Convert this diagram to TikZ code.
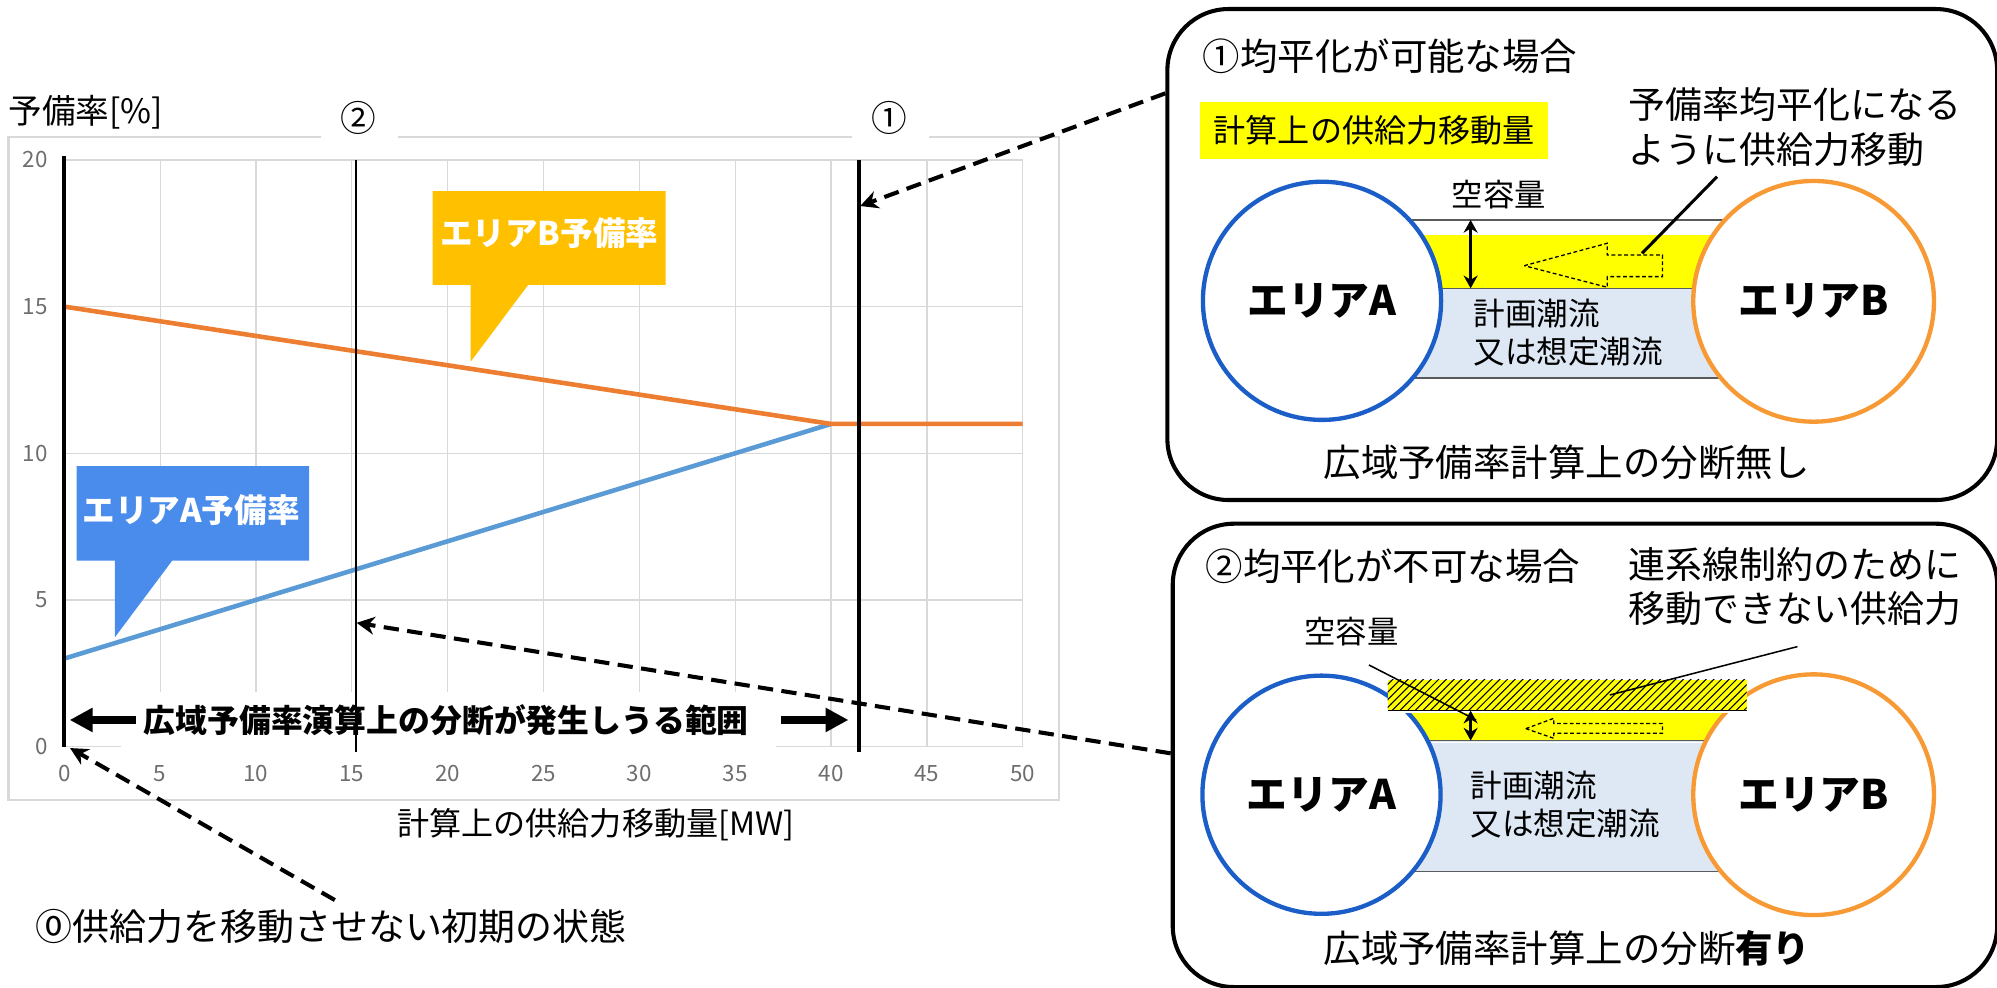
\documentclass[tikz,border=0pt]{standalone}
\usepackage{fontspec}
\setmainfont{Noto Sans CJK JP}
\usetikzlibrary{arrows.meta,patterns}
\definecolor{gridc}{HTML}{D9D9D9}
\definecolor{tickc}{HTML}{6E6E6E}
\definecolor{serOr}{HTML}{ED7D31}
\definecolor{serBl}{HTML}{5B9BD5}
\definecolor{callB}{HTML}{FFC000}
\definecolor{callA}{HTML}{4A8CEB}
\definecolor{areaA}{HTML}{1B5EC8}
\definecolor{areaB}{HTML}{F79A35}
\definecolor{flowc}{HTML}{DEE8F4}
\definecolor{bandc}{HTML}{FFFF00}
\definecolor{edgec}{HTML}{5A5A5A}
\newcommand\fsz[2]{\fontsize{#1}{#2}\selectfont}
\tikzset{
  frame/.style={draw=gridc, line width=0.9pt},
  gridln/.style={draw=gridc, line width=0.5pt},
  txt/.style={inner sep=0pt, outer sep=0pt},
  ticklbl/.style={txt, text=tickc, font=\fsz{8.8pt}{10pt}},
  dasharrow/.style={line width=1.6pt, dash pattern=on 6pt off 3.3pt, -{Stealth[length=7pt,width=7pt]}},
  rangearrow/.style={line width=3pt, -{Triangle[length=9pt,width=9pt]}},
  panelbox/.style={draw, line width=1.6pt, rounded corners=24pt, inner sep=0pt, anchor=north west},
  circA/.style={circle, draw=areaA, line width=1.7pt, fill=white, minimum size=93.5pt, inner sep=0pt, font=\bfseries\fsz{16pt}{18pt}},
  circB/.style={circle, draw=areaB, line width=1.7pt, fill=white, minimum size=94.5pt, inner sep=0pt, font=\bfseries\fsz{16pt}{18pt}},
  edgeln/.style={draw=edgec, line width=0.6pt},
  hollow/.style={draw, line width=0.5pt, dash pattern=on 1.5pt off 1pt},
  twoarrow/.style={line width=1pt, {Stealth[length=5pt,width=5.5pt]}-{Stealth[length=5pt,width=5.5pt]}},
}
\begin{document}
\begin{tikzpicture}[x=0.5pt,y=-0.5pt]
\useasboundingbox (0,0) rectangle (1568,775);

% ---------- chart frame ----------
\draw[frame] (251.8,107.3) -- (6.6,107.3) -- (6.6,628.1) -- (831.5,628.1) -- (831.5,107.3) -- (729.3,107.3);
\draw[frame] (312.5,107.3) -- (669.2,107.3);

\begin{scope}[shift={(50.5,586.2)},x=7.525pt,y=11.515pt]
  \foreach \i in {5,10,...,50} \draw[gridln] (\i,0) -- (\i,20);
  \foreach \j in {0,5,...,20} \draw[gridln] (0,\j) -- (50,\j);
  \fill[white] (2.95,-0.4) rectangle (37.15,1.87);
  \draw[serBl, line width=1.8pt, line join=round] (0,3) -- (40,11);
  \draw[serOr, line width=1.8pt, line join=round] (0,15) -- (40,11) -- (50,11);
  \draw[line width=1.5pt] (0,20.13) -- (0,0);
  \draw[line width=0.9pt] (15.2,20) -- (15.2,-0.17);
  \draw[line width=1.35pt] (41.46,20) -- (41.46,-0.17);
  \coordinate (o) at (0.3,-0.05);
  \coordinate (m2) at (15.25,4.22);
  \coordinate (m1) at (41.52,18.43);
\end{scope}

% tick labels
\foreach \i in {0,5,...,50} \node[ticklbl] (tx\i) at ({50.5+15.05*\i},607.2) {\i};
\foreach \j in {0,5,...,20} \node[ticklbl, anchor=east] (ty\j) at (37.5,{586.2-23.03*\j}) {\j};

\node[txt, anchor=west, font=\fsz{13.2pt}{15pt}] (ylab) at (6.6,88) {予備率[\%]};
\node[txt, font=\fsz{12.6pt}{15pt}] (xlab) at (467.8,647.7) {計算上の供給力移動量[MW]};
\node[txt, font=\fsz{14pt}{16pt}] (lab2) at (281.6,92.9) {②};
\node[txt, font=\fsz{14pt}{16pt}] (lab1) at (698.6,92.9) {①};

% callouts
\fill[callB] (339.6,150) -- (522.6,150) -- (522.6,223.7) -- (414.7,223.7) -- (369.6,283.9) -- (369.6,223.7) -- (339.6,223.7) -- cycle;
\node[txt, text=white, font=\bfseries\fsz{12.8pt}{14pt}] (cbt) at (431.3,183.2) {エリアB予備率};
\fill[callA] (60.1,365.9) -- (242.8,365.9) -- (242.8,440.2) -- (135.2,440.2) -- (90.2,500.4) -- (90.2,440.2) -- (60.1,440.2) -- cycle;
\node[txt, text=white, font=\bfseries\fsz{12.8pt}{14pt}] (cat) at (150,400.4) {エリアA予備率};

% range label
\node[txt, font=\bfseries\fsz{12.5pt}{14pt}] (rng) at (350.4,565.3) {広域予備率演算上の分断が発生しうる範囲};
\coordinate (rngL) at (54.7,565.3);
\coordinate (rngR) at (666.2,565.3);
\draw[rangearrow] ([xshift=-3pt]rng.west) -- (rngL);
\draw[rangearrow] ([xshift=12.75pt]rng.east) -- (rngR);

% note 0
\node[txt, anchor=west, font=\fsz{14.5pt}{16pt}] (note0) at (28,727.6) {⓪供給力を移動させない初期の状態};
\coordinate (n0a) at (262.9,706.7);

% ---------- panel 1 ----------
\node[panelbox, minimum width=325.75pt, minimum height=192.75pt] (p1) at (915,5.5) {};
\node[txt, anchor=west, font=\fsz{14.7pt}{16pt}] (p1t) at (944.4,43.8) {①均平化が可能な場合};
\node[txt, fill=bandc, minimum width=136.7pt, minimum height=22.5pt, font=\fsz{12.6pt}{14pt}] (p1y) at (1079,102.3) {計算上の供給力移動量};
\node[txt, anchor=west, align=left, font=\fsz{14.5pt}{17.7pt}] (p1n) at (1278.8,100.1) {予備率均平化になる\\ように供給力移動};
\node[txt, font=\fsz{12.3pt}{14pt}] (p1c) at (1176.8,153.1) {空容量};
\fill[bandc] (1100,184.5) rectangle (1362,226.4);
\fill[flowc] (1100,226.4) rectangle (1362,297);
\draw[edgeln] (1100,172.7) -- (1362,172.7);
\draw[edgeln] (1100,226.4) -- (1362,226.4);
\draw[edgeln] (1100,297) -- (1362,297);
\node[circA] (p1A) at (1038,236.2) {エリアA};
\node[circB] (p1B) at (1424,236.6) {エリアB};
\coordinate (p1u) at (1154.7,172.7);
\coordinate (p1d) at (1154.7,226.4);
\draw[twoarrow] (p1u) -- (p1d);
\draw[hollow] (1196.8,208.6) -- (1262,191) -- (1262,200.2) -- (1305.3,200.2) -- (1305.3,217.2) -- (1262,217.2) -- (1262,225.6) -- cycle;
\coordinate (p1ls) at (1348.2,138.7);
\coordinate (p1le) at (1289.3,198.9);
\draw[line width=1.2pt] (p1ls) -- (p1le);
\node[txt, anchor=west, align=left, font=\fsz{12.4pt}{15pt}] (p1f) at (1156.9,261) {計画潮流\\又は想定潮流};
\node[txt, font=\fsz{14.7pt}{16pt}] (p1b) at (1230.4,363) {広域予備率計算上の分断無し};

% ---------- panel 2 ----------
\node[panelbox, minimum width=323.65pt, minimum height=181.9pt] (p2) at (919.2,409.6) {};
\node[txt, anchor=west, font=\fsz{14.7pt}{16pt}] (p2t) at (946.6,445) {②均平化が不可な場合};
\node[txt, anchor=west, align=left, font=\fsz{14.5pt}{17pt}] (p2n) at (1278.8,460.6) {連系線制約のために\\移動できない供給力};
\node[txt, font=\fsz{12.3pt}{14pt}] (p2c) at (1061.2,496) {空容量};
\fill[bandc] (1090,558.8) rectangle (1372,581.8);
\fill[flowc] (1090,581.8) rectangle (1372,684.4);
\draw[edgeln] (1090,581.3) -- (1372,581.3);
\draw[white, line width=0.7pt] (1090,583) -- (1372,583);
\draw[edgeln] (1090,684.4) -- (1372,684.4);
\node[circA] (p2A) at (1037.6,624) {エリアA};
\node[circB] (p2B) at (1424,624) {エリアB};
\fill[bandc] (1089.6,533.9) rectangle (1371.4,558);
\fill[pattern=north east lines, pattern color=black] (1089.6,533.9) rectangle (1371.4,558);
\draw[black, line width=0.4pt] (1089.6,557.8) -- (1371.4,557.8);
\draw[white, line width=0.7pt] (1089.6,559.2) -- (1371.4,559.2);
\coordinate (p2u) at (1154.7,558);
\coordinate (p2d) at (1154.7,581.5);
\draw[twoarrow] (p2u) -- (p2d);
\draw[hollow] (1198,572.1) -- (1220,564) -- (1220,568) -- (1305.3,568) -- (1305.3,575.8) -- (1220,575.8) -- (1220,579.7) -- cycle;
\coordinate (p2cs) at (1074.8,522.1);
\coordinate (p2ce) at (1159,565.3);
\draw[line width=0.6pt] (p2cs) -- (p2ce);
\coordinate (p2ns) at (1411.3,507.7);
\coordinate (p2ne) at (1264,545.7);
\draw[line width=0.6pt] (p2ns) -- (p2ne);
\node[txt, anchor=west, align=left, font=\fsz{12.4pt}{15pt}] (p2f) at (1154.7,631.5) {計画潮流\\又は想定潮流};
\node[txt, font=\fsz{14.7pt}{16pt}] (p2b) at (1230.4,744.6) {広域予備率計算上の分断\textbf{有り}};

% ---------- dashed connectors ----------
\coordinate (p1a) at (915,73.3);
\coordinate (p2a) at (919.2,591.5);
\draw[dasharrow] (p1a) -- (m1);
\draw[dasharrow] (p2a) -- (m2);
\draw[dasharrow] (n0a) -- (o);
\end{tikzpicture}
\end{document}
